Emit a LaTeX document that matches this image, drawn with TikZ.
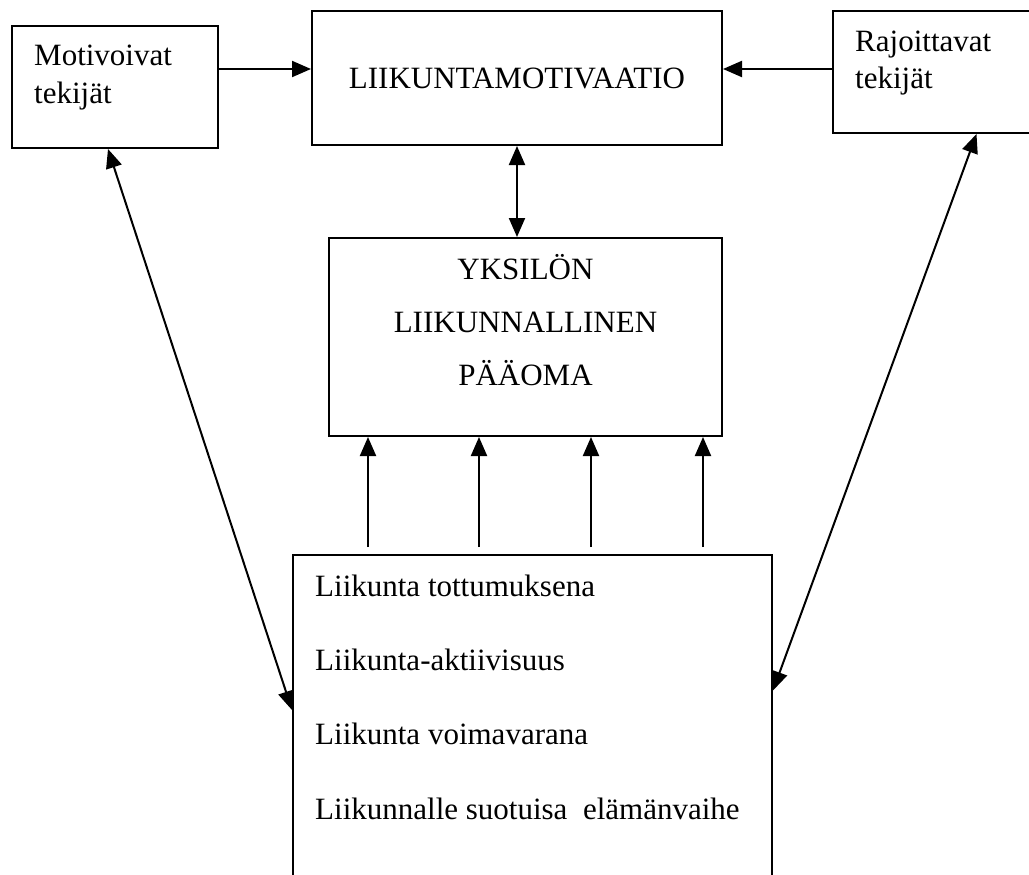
\documentclass[tikz,border=0pt]{standalone}
\usepackage{fontspec}
\setmainfont{Liberation Serif}
\usetikzlibrary{arrows.meta}

\begin{document}
\begin{tikzpicture}[x=1pt,y=-1pt,>={Triangle[length=19pt,width=16pt]},
  box/.style={draw,line width=2pt,inner sep=0pt},
  txt/.style={inner sep=0pt,align=left,font=\fontsize{31}{38}\selectfont},
  con/.style={line width=2pt}]
\useasboundingbox (0,0) rectangle (1029,875);

\node[box,minimum width=206pt,minimum height=122pt] (mot) at (115,87) {};
\node[box,minimum width=410pt,minimum height=134pt,font=\fontsize{31}{38}\selectfont] (mov) at (517,78) {LIIKUNTAMOTIVAATIO};
\node[box,minimum width=207pt,minimum height=122pt] (raj) at (936.5,72) {};
\node[box,minimum width=393pt,minimum height=198pt] (yks) at (525.5,337) {};
\node[box,minimum width=479pt,minimum height=325pt] (low) at (532.5,717.5) {};

\node[txt,anchor=north west] (motT) at ([shift={(23,20)}]mot.north west) {Motivoivat\\tekijät};
\node[txt,anchor=north west,font=\fontsize{31}{37}\selectfont] (rajT) at ([shift={(23,20.5)}]raj.north west) {Rajoittavat\\tekijät};
\node[txt,align=center,font=\fontsize{31}{53}\selectfont] (yksT) at ([yshift=17pt]yks.center) {YKSILÖN\\LIIKUNNALLINEN\\PÄÄOMA};
\node[txt,anchor=north west,font=\fontsize{31}{74.3}\selectfont] (lowT) at ([shift={(23,20.5)}]low.north west)
  {Liikunta tottumuksena\\Liikunta-aktiivisuus\\Liikunta voimavarana\\Liikunnalle suotuisa\ \ elämänvaihe};

\coordinate (m1) at ([yshift=18pt]mot.east);
\coordinate (r1) at ([yshift=3pt]raj.west);
\draw[con,->] (m1) -- (m1 -| mov.west);
\draw[con,->] (r1) -- (r1 -| mov.east);
\draw[con,<->] (mov.south) -- (mov.south |- yks.north);
\foreach \x in {368,479,591,703}
  \draw[con,->,shorten <=7pt] (\x,0 |- low.north) -- (\x,0 |- yks.south);
\draw[con,<->] ([xshift=-7pt]mot.south) -- ([yshift=7.5pt]low.west);
\draw[con,<->] ([xshift=40pt]raj.south) -- ([yshift=27pt]low.east);
\end{tikzpicture}
\end{document}
